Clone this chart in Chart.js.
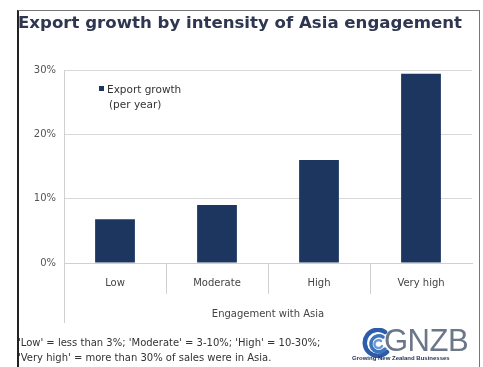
<!DOCTYPE html>
<html>
<head>
<meta charset="utf-8">
<script src="https://cdn.jsdelivr.net/npm/chart.js@4"></script>
<style>
  html, body { margin: 0; padding: 0; background: #fff; }
  #page { position: relative; width: 483px; height: 367px; overflow: hidden; font-family: "DejaVu Sans", sans-serif; }
  #frame { position: absolute; left: 17px; top: 10px; width: 460px; height: 380px;
           border: 1px solid #777; border-left: 2px solid #222; }
  #title { position: absolute; left: 18px; top: 13px; font: bold 16.6px "DejaVu Sans", sans-serif;
           color: #2f3650; white-space: nowrap; }
  #legend { position: absolute; left: 99px; top: 82px; font-size: 10.5px; color: #333; line-height: 15px; }
  #legend .sw { display: inline-block; width: 5px; height: 5px; background: #1c3660; margin-right: 3px; vertical-align: 2px; }
  #legend .l2 { padding-left: 10px; }
  #note { position: absolute; left: 18px; top: 335px; font-size: 10px; color: #333; line-height: 15px; white-space: nowrap; }
  #logo { position: absolute; left: 352px; top: 326px; width: 124px; height: 40px; }
  #logo .gnzb { position: absolute; left: 32px; top: -3px; font: 31px "Liberation Sans", Arial, sans-serif; color: #6b7689; letter-spacing: -0.5px; }
  #logo .sub { position: absolute; left: 0; top: 29px; font: bold 6px "Liberation Sans", Arial, sans-serif; color: #24345a; white-space: nowrap; }
  #chartWrap { position: absolute; left: 0; top: 0; width: 483px; height: 367px; }
</style>
</head>
<body>
<div id="page">
  <div id="frame"></div>
  <div id="chartWrap"><canvas id="c"></canvas></div>
  <div id="title">Export growth by intensity of Asia engagement</div>
  <div id="legend"><span class="sw"></span>Export growth<br><span class="l2">(per year)</span></div>
  <div id="note">'Low' = less than 3%; 'Moderate' = 3-10%; 'High' = 10-30%;<br>'Very high' = more than 30% of sales were in Asia.</div>
  <div id="logo">
    <svg width="34" height="30" style="position:absolute;left:9px;top:2px" viewBox="0 0 34 30">
      <g fill="none" stroke="#2d5da8" stroke-linecap="round">
        <path d="M24 4 A13 13 0 1 0 26 24" stroke-width="4.5"/>
        <path d="M22 9 A8 8 0 1 0 24 21" stroke-width="3.5" stroke="#3f74bd"/>
        <path d="M20 13 A4 4 0 1 0 21 18" stroke-width="2.5" stroke="#6b9ad6"/>
      </g>
    </svg>
    <div class="gnzb">GNZB</div>
    <div class="sub">Growing New Zealand Businesses</div>
  </div>
</div>
<script>
const categories = ['Low', 'Moderate', 'High', 'Very high'];
const exportGrowth = [6.8, 9.0, 16.0, 29.4];
const yTicks = [0, 10, 20, 30];

// extends the left axis line down past the axis title, as in the original
const axisExtend = {
  id: 'axisExtend',
  afterDraw(chart) {
    const { ctx, chartArea, scales } = chart;
    ctx.save();
    ctx.strokeStyle = '#d0d0d0';
    ctx.lineWidth = 1;
    ctx.beginPath();
    ctx.moveTo(Math.round(chartArea.left) + 0.5, chartArea.bottom);
    ctx.lineTo(Math.round(chartArea.left) + 0.5, scales.x.bottom);
    ctx.stroke();
    ctx.restore();
  }
};

new Chart(document.getElementById('c').getContext('2d'), {
  type: 'bar',
  data: {
    labels: categories,
    datasets: [{
      label: 'Export growth (per year)',
      data: exportGrowth,
      backgroundColor: '#1c3660',
      categoryPercentage: 1,
      barPercentage: 0.39
    }]
  },
  options: {
    responsive: true,
    maintainAspectRatio: false,
    animation: false,
    layout: { padding: { left: 17, top: 70, right: 11, bottom: 44 } },
    plugins: { legend: { display: false }, tooltip: { enabled: false } },
    scales: {
      x: {
        afterFit: s => { s.height = 60; },
        grid: {
          offset: true,
          drawOnChartArea: false,
          tickLength: 31,
          color: c => (c.type !== 'tick' || c.index === 0) ? 'rgba(0,0,0,0)' : '#d0d0d0'
        },
        border: { color: '#d0d0d0' },
        ticks: { padding: -17, color: '#444', font: { family: 'DejaVu Sans', size: 10 } },
        title: {
          display: true,
          text: 'Engagement with Asia',
          color: '#444',
          font: { family: 'DejaVu Sans', size: 10 },
          padding: { top: 0, bottom: 3 }
        }
      },
      y: {
        min: 0,
        max: 30,
        afterFit: s => { s.width = 47; },
        afterBuildTicks: s => { s.ticks = yTicks.map(v => ({ value: v })); },
        grid: { color: '#d9d9d9', drawTicks: false },
        border: { color: '#d0d0d0' },
        ticks: {
          padding: 8,
          color: '#555',
          font: { family: 'DejaVu Sans', size: 10 },
          callback: v => v + '%'
        }
      }
    }
  },
  plugins: [axisExtend]
});
</script>
</body>
</html>
